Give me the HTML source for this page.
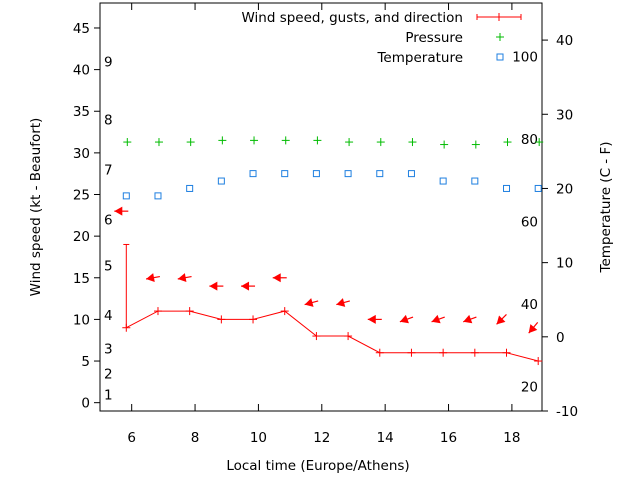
<!DOCTYPE html>
<html><head><meta charset="utf-8"><style>
body{margin:0;background:#fff}
svg text{font-family:"DejaVu Sans","Liberation Sans",sans-serif;font-size:13.5px;fill:#000}
</style></head><body>
<svg id="chart" width="640" height="480" xmlns="http://www.w3.org/2000/svg"></svg>
<script>
const hours=[5.83,6.83,7.83,8.83,9.83,10.83,11.83,12.83,13.83,14.83,15.83,16.83,17.83,18.83];
const windSpeed=[9,11,11,10,10,11,8,8,6,6,6,6,6,5];
const gustIndex=[0];
const gustValue=[19];
const arrowLevel=[23,15,15,14,14,15,12,12,10,10,10,10,10,9];
const windDirDeg=[90,80,80,90,90,90,75,75,90,70,70,70,45,40];
const pressure=[31.3,31.3,31.3,31.5,31.5,31.5,31.5,31.3,31.3,31.3,31.0,31.0,31.3,31.3];
const temperature=[19,19,20,21,22,22,22,22,22,22,21,21,20,20];
const xTicks=[6,8,10,12,14,16,18];
const yTicks=[0,5,10,15,20,25,30,35,40,45];
const y2Ticks=[-10,0,10,20,30,40];
const beaufortLabels=["1","2","3","4","5","6","7","8","9"];
const beaufortPos=[1,3.5,6.5,10.5,16.5,22,28,34,41];
const fahrLabels=["20","40","60","80","100"];
const fahrVal=[20,40,60,80,100];

const L=100,R=542,T=3,B=411;
const X=v=>L+(v-5)/(18.95-5)*(R-L);
const Y=v=>B-(v+1)/(48+1)*(B-T);
const Y2=v=>B-(v+10)/(45+10)*(B-T);
const svg=document.getElementById('chart');
const NS='http://www.w3.org/2000/svg';
function mk(tag,attrs,parent){const e=document.createElementNS(NS,tag);for(const k in attrs)e.setAttribute(k,attrs[k]);(parent||svg).appendChild(e);return e;}
function txt(s,x,y,anchor,parent){const t=mk('text',{x:x,y:y,'text-anchor':anchor||'middle'},parent);t.textContent=s;return t;}

const frame=mk('rect',{x:L,y:T,width:R-L,height:B-T,fill:'none',stroke:'#000','stroke-width':1});



const xa=mk('g',{});


xTicks.forEach(v=>{
  mk('line',{x1:X(v),x2:X(v),y1:B,y2:B-7,stroke:'#000'},xa);
  mk('line',{x1:X(v),x2:X(v),y1:T,y2:T+7,stroke:'#000'},xa);
  txt(String(v),X(v),442,'middle',xa);
});
const ya=mk('g',{});


yTicks.forEach(v=>{
  mk('line',{x1:L,x2:L-6,y1:Y(v),y2:Y(v),stroke:'#000'},ya);
  txt(String(v),L-10,Y(v)+5,'end',ya);
});
const y2a=mk('g',{});


y2Ticks.forEach(v=>{
  mk('line',{x1:R,x2:R+6,y1:Y2(v),y2:Y2(v),stroke:'#000'},y2a);
  txt(String(v),R+14,Y2(v)+5,'start',y2a);
});
const bf=mk('g',{});


beaufortLabels.forEach((s,i)=>{txt(s,104,Y(beaufortPos[i])+5,'start',bf);});
const ff=mk('g',{});


fahrLabels.forEach((s,i)=>{txt(s,538,Y2((fahrVal[i]-32)*5/9)+5,'end',ff);});

const xt=txt('Local time (Europe/Athens)',318,470);

const yt=txt('Wind speed (kt - Beaufort)',0,0);
yt.setAttribute('transform','translate(40,207) rotate(-90)');

const y2t=txt('Temperature (C - F)',0,0);
y2t.setAttribute('transform','translate(610,207) rotate(-90)');


const wl=mk('polyline',{points:hours.map((h,i)=>X(h)+','+Y(windSpeed[i])).join(' '),fill:'none',stroke:'#f00','stroke-width':1});

hours.forEach((h,i)=>{
  const g=mk('g',{stroke:'#f00'});
  
  
  mk('line',{x1:X(h)-4,x2:X(h)+4,y1:Y(windSpeed[i]),y2:Y(windSpeed[i])},g);
  mk('line',{x1:X(h),x2:X(h),y1:Y(windSpeed[i])-4,y2:Y(windSpeed[i])+4},g);
});
gustIndex.forEach((idx,j)=>{
  const g=mk('g',{stroke:'#f00'});
  
  
  const x=X(hours[idx]);
  mk('line',{x1:x,x2:x,y1:Y(windSpeed[idx]),y2:Y(gustValue[j])},g);
  mk('line',{x1:x-3,x2:x+3,y1:Y(gustValue[j]),y2:Y(gustValue[j])},g);
});
hours.forEach((h,i)=>{
  const g=mk('g',{});
  
  
  const cx=X(h)-5,cy=Y(arrowLevel[i]);
  const a=(windDirDeg[i])*Math.PI/180;
  const dx=-Math.sin(a),dy=Math.cos(a);
  const len=14;
  const tx=cx+dx*len/2,ty=cy+dy*len/2,sx=cx-dx*len/2,sy=cy-dy*len/2;
  mk('line',{x1:sx,y1:sy,x2:tx,y2:ty,stroke:'#f00','stroke-width':1.2},g);
  const px=-dy,py=dx;
  mk('polygon',{points:`${tx},${ty} ${tx-dx*8+px*4.5},${ty-dy*8+py*4.5} ${tx-dx*8-px*4.5},${ty-dy*8-py*4.5}`,fill:'#f00'},g);
});
hours.forEach((h,i)=>{
  const g=mk('g',{stroke:'#0b0'});
  
  
  const x=X(h)+1,y=Y(pressure[i]);
  mk('line',{x1:x-4,x2:x+4,y1:y,y2:y},g);
  mk('line',{x1:x,x2:x,y1:y-4,y2:y+4},g);
});
hours.forEach((h,i)=>{
  const r=mk('rect',{x:X(h)-3,y:Y2(temperature[i])-3,width:6,height:6,fill:'none',stroke:'#1e7fe0','stroke-width':1});
  
  
});
const lg=mk('g',{});


txt('Wind speed, gusts, and direction',463,22,'end',lg);
txt('Pressure',463,42,'end',lg);
txt('Temperature',463,62,'end',lg);
const lw=mk('g',{stroke:'#f00'},lg);
mk('line',{x1:477,x2:521,y1:17,y2:17},lw);
mk('line',{x1:477,x2:477,y1:14,y2:20},lw);
mk('line',{x1:521,x2:521,y1:14,y2:20},lw);
mk('line',{x1:499,x2:499,y1:13,y2:21},lw);
const lp=mk('g',{stroke:'#0b0'},lg);
mk('line',{x1:496,x2:504,y1:37,y2:37},lp);
mk('line',{x1:500,x2:500,y1:33,y2:41},lp);
mk('rect',{x:497,y:54,width:6,height:6,fill:'none',stroke:'#1e7fe0'},lg);
</script>
</body></html>
